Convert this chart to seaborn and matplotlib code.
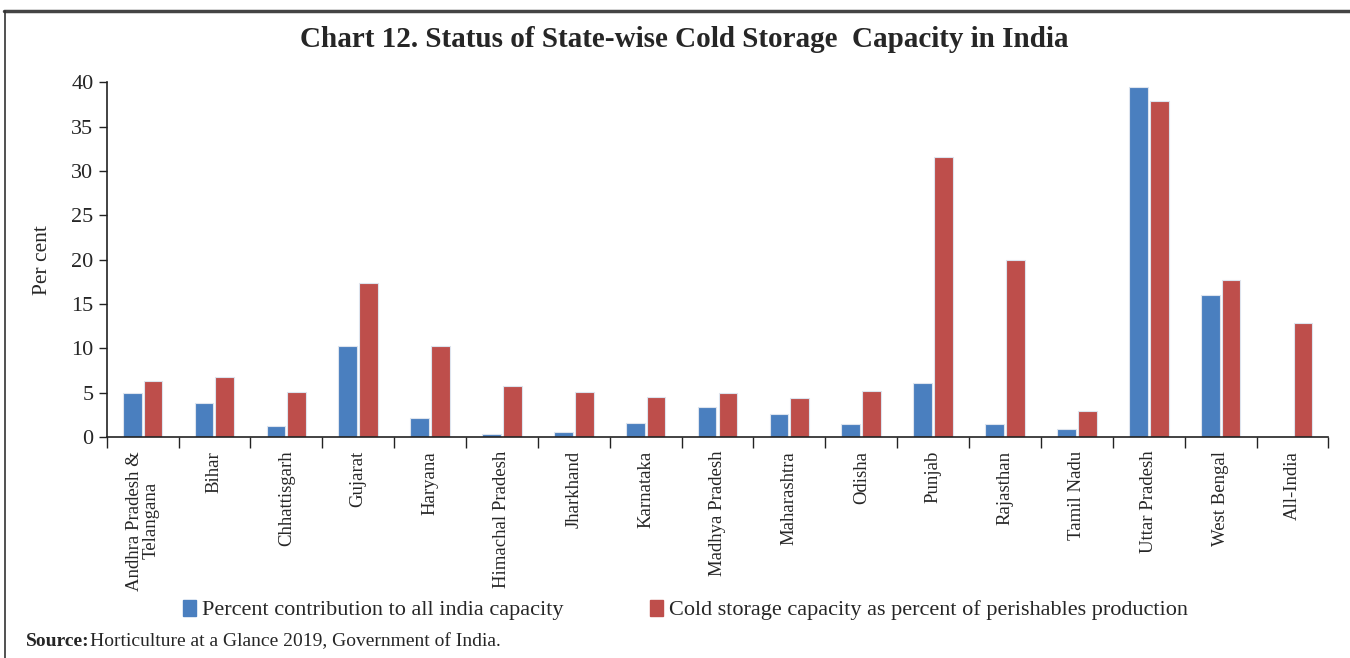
import matplotlib
matplotlib.use('Agg')
import matplotlib.pyplot as plt
from matplotlib.lines import Line2D
import pandas as pd
import seaborn as sns

# Dados
estados = ['Andhra Pradesh &\nTelangana', 'Bihar', 'Chhattisgarh', 'Gujarat', 'Haryana',
           'Himachal Pradesh', 'Jharkhand', 'Karnataka', 'Madhya Pradesh', 'Maharashtra',
           'Odisha', 'Punjab', 'Rajasthan', 'Tamil Nadu', 'Uttar Pradesh', 'West Bengal',
           'All-India']
contribuicao = [5.0, 3.8, 1.2, 10.25, 2.1, 0.3, 0.5, 1.55, 3.4, 2.55,
                1.4, 6.1, 1.5, 0.85, 39.5, 16.0, 0.0]
capacidade = [6.25, 6.75, 5.05, 17.35, 10.3, 5.75, 5.05, 4.45, 5.0, 4.35,
              5.15, 31.6, 20.0, 2.9, 37.9, 17.7, 12.8]

serie_azul = 'Percent contribution to all india capacity'
serie_vermelha = 'Cold storage capacity as percent of perishables production'

df = pd.DataFrame({'estado': estados * 2,
                   'valor': contribuicao + capacidade,
                   'serie': [serie_azul] * len(estados) + [serie_vermelha] * len(estados)})

sns.set_style('white')
plt.rcParams['font.family'] = ['Liberation Serif', 'DejaVu Serif']

fig = plt.figure(figsize=(13.5, 6.58), dpi=100)
ax = fig.add_axes([0.079, 0.336, 0.905, 0.539])

cores = {serie_azul: '#4A7FBF', serie_vermelha: '#BE4E4B'}
sns.barplot(data=df, x='estado', y='valor', hue='serie', palette=cores, saturation=1,
            width=0.58, gap=0.1, edgecolor='#dde4ee', linewidth=0.8, ax=ax)

ax.set_ylim(0, 40)
ax.set_xlim(-0.5, len(estados) - 0.5)
ax.set_yticks(range(0, 41, 5))
ax.set_xlabel('')
ax.set_ylabel('Per cent', fontsize=15.5, labelpad=14)
ax.tick_params(axis='y', labelsize=16, length=6, width=1, direction='out', left=True, color='#222222')
ax.tick_params(axis='x', which='major', length=0, labelsize=13.5, pad=10)
ax.set_xticks([i - 0.5 for i in range(len(estados) + 1)], minor=True)
ax.tick_params(axis='x', which='minor', length=8, width=1, direction='out', bottom=True, color='#222222')
ax.set_xticklabels(estados, rotation=90, va='top', ha='center', linespacing=1.0)
for s in ['top', 'right']:
    ax.spines[s].set_visible(False)
for s in ['left', 'bottom']:
    ax.spines[s].set_color('#222222')
    ax.spines[s].set_linewidth(1.2)

ax.get_legend().remove()
handles = [plt.Rectangle((0, 0), 1, 1, color=cores[serie_azul]),
           plt.Rectangle((0, 0), 1, 1, color=cores[serie_vermelha])]
fig.legend(handles, [serie_azul, serie_vermelha], loc='center', bbox_to_anchor=(0.508, 0.073),
           ncol=2, frameon=False, fontsize=16, handlelength=0.55, handleheight=0.75,
           handletextpad=0.3, columnspacing=3.9)

fig.suptitle('Chart 12. Status of State-wise Cold Storage  Capacity in India',
             x=0.507, y=0.96, fontsize=21, fontweight='bold')

fig.text(0.019, 0.025, 'Source:', fontsize=14, fontweight='bold', va='center')
fig.text(0.067, 0.025, 'Horticulture at a Glance 2019, Government of India.', fontsize=14, va='center')

# moldura (linha superior e esquerda)
fig.add_artist(Line2D([0.003, 1.0], [0.984, 0.984], color='#444444', linewidth=2.5))
fig.add_artist(Line2D([0.004, 0.004], [0.0, 0.984], color='#333333', linewidth=1.2))

plt.savefig('out.png', dpi=100)
